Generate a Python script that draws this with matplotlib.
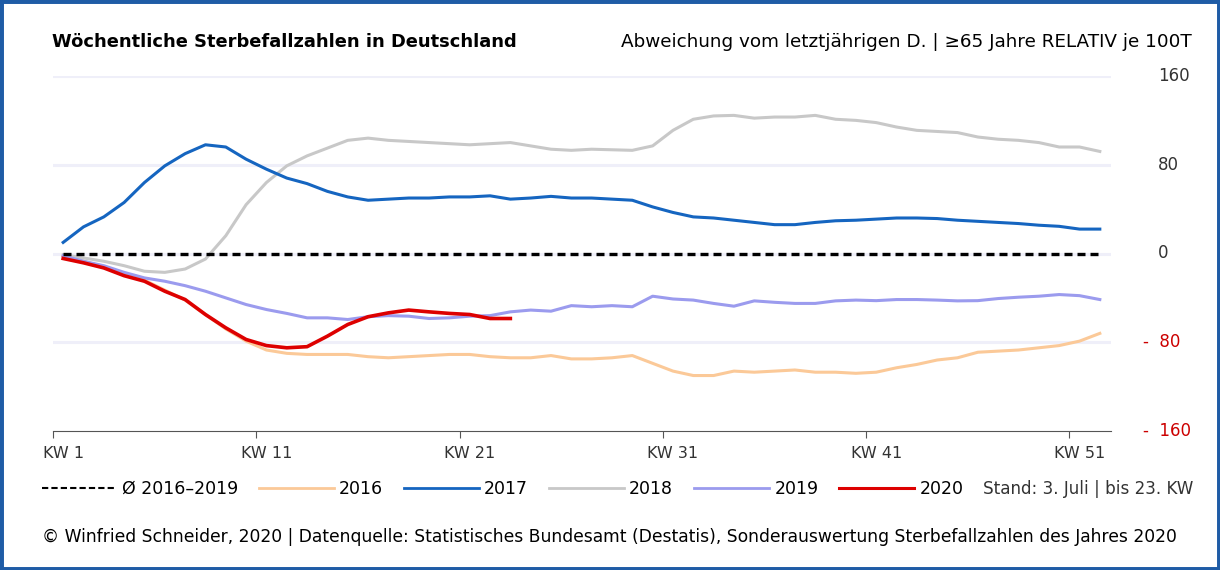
import matplotlib.pyplot as plt
from matplotlib.lines import Line2D
from matplotlib.patches import Rectangle

# calendar weeks 1..52
weeks = list(range(1, 53))

# deviation vs. previous-year average, 65+ years, per 100k
avg_line = [0] * 52
y2016 = [-2, -7, -12, -19, -24, -33, -42, -55, -68, -79,
         -87, -90, -91, -91, -91, -93, -94, -93, -92, -91,
         -91, -93, -94, -94, -92, -95, -95, -94, -92, -99,
         -106, -110, -110, -106, -107, -106, -105, -107, -107, -108,
         -107, -103, -100, -96, -94, -89, -88, -87, -85, -83, -79, -72]
y2017 = [10, 24, 33, 46, 64, 79, 90, 98, 96, 85,
         76, 68, 63, 56, 51, 48, 49, 50, 50, 51,
         51, 52, 49, 50, 51.5, 50, 50, 49, 48, 42,
         37, 33, 32, 30, 28, 26, 26, 28, 29.5, 30,
         31, 32, 32, 31.5, 30, 29, 28, 27, 25.5, 24.5, 22, 22]
y2018 = [-1, -4, -7, -11, -16, -17, -14, -5, 16, 44,
         64, 79, 88, 95, 102, 104, 102, 101, 100, 99,
         98, 99, 100, 97, 94, 93, 94, 93.5, 93, 97,
         111, 121, 124, 124.5, 122, 123, 123, 124.5, 121, 120,
         118, 114, 111, 110, 109, 105, 103, 102, 100, 96, 96, 92]
y2019 = [-2, -7, -11, -17, -22, -25, -29, -34, -40, -46,
         -50.5, -54, -58, -58, -59.5, -57, -56, -56.5, -58.6, -58,
         -56.5, -56, -52.6, -51, -52, -47, -48, -47, -48, -38.5,
         -41, -42, -45, -47.5, -42.7, -44, -45, -45, -42.7, -42,
         -42.5, -41.5, -41.5, -42, -42.7, -42.5, -40.6, -39.4, -38.5, -37, -38, -41.5]
y2020 = [-4.5, -8.4, -13, -20, -25, -34, -41.5, -55, -67, -77.5,
         -83, -85, -84, -74.5, -64, -57, -53.5, -51, -52.6, -54,
         -55, -58.6, -58.6]

label_weeks = [1, 11, 21, 31, 41, 51]
tick_labels = ["KW 1", "KW 11", "KW 21", "KW 31", "KW 41", "KW 51"]
y_levels = [160, 80, 0, -80, -160]
y_labels = ["160", "80", "0", "-  80", "-  160"]

c16, c17, c18, c19, c20 = "#fbc998", "#1565c0", "#c8c8c8", "#9b9bee", "#dd0000"

W, H = 1220, 570
fig = plt.figure(figsize=(12.2, 5.7), dpi=100)
ax = fig.add_axes([53 / W, 1 - 431 / H, (1111 - 53) / W, (431 - 76) / H])

# light grid
for v in [160, 80, 0, -80]:
    ax.axhline(v, color="#efeff9", lw=2.2, zorder=0)

ax.plot(weeks, y2016, color=c16, lw=2.2, zorder=2)
ax.plot(weeks, y2018, color=c18, lw=2.2, zorder=2)
ax.plot(weeks, y2019, color=c19, lw=2.2, zorder=2)
ax.plot(weeks, y2017, color=c17, lw=2.2, zorder=3)
ax.plot(weeks, avg_line, color="black", lw=2.4, dashes=(2.4, 1.5), zorder=3)
ax.plot(weeks[:len(y2020)], y2020, color=c20, lw=2.6, zorder=4)

ax.set_xlim(0.5, 52.55)
ax.set_ylim(-160, 160)
for s in ["top", "left", "right"]:
    ax.spines[s].set_visible(False)
ax.spines["bottom"].set_color("#555555")
ax.set_yticks([])
# tick marks sit on the week boundaries, labels on the week itself
ax.set_xticks([w - 0.5 for w in label_weeks])
ax.set_xticklabels([])
ax.set_xticks(label_weeks, minor=True)
ax.set_xticklabels(tick_labels, minor=True, fontsize=11.5, color="#333333")
ax.tick_params(axis="x", which="major", length=5, color="#555555")
ax.tick_params(axis="x", which="minor", length=0, pad=11)

# right-hand value labels
for v, lab in zip(y_levels, y_labels):
    col = "#cc0000" if v < 0 else "#333333"
    xo = 1158 if v >= 0 else 1143
    ax.text((xo - 53) / (1111 - 53), v, lab, transform=ax.get_yaxis_transform(),
            ha="left", va="center", fontsize=12, color=col)

fig.text(52 / W, 1 - 42 / H, "Wöchentliche Sterbefallzahlen in Deutschland",
         fontsize=12.9, fontweight="bold", ha="left", va="center")
fig.text(1192 / W, 1 - 42 / H,
         "Abweichung vom letztjährigen D. | ≥65 Jahre RELATIV je 100T",
         fontsize=13.2, ha="right", va="center")

handles = [
    Line2D([], [], color="black", lw=1.5, dashes=(3, 1.5)),
    Line2D([], [], color=c16, lw=2),
    Line2D([], [], color=c17, lw=2),
    Line2D([], [], color=c18, lw=2),
    Line2D([], [], color=c19, lw=2),
    Line2D([], [], color=c20, lw=2.2),
]
labels = ["Ø 2016–2019", "2016", "2017", "2018", "2019", "2020"]
fig.legend(handles, labels, loc="center left", bbox_to_anchor=(41.5 / W, 1 - 489 / H),
           ncol=6, frameon=False, fontsize=12.5, handlelength=4.32,
           handletextpad=0.3, columnspacing=1.2, borderpad=0, borderaxespad=0)
fig.text(1193 / W, 1 - 489 / H, "Stand: 3. Juli | bis 23. KW",
         fontsize=12.1, ha="right", va="center", color="#333333")

fig.text(42 / W, 1 - 537 / H,
         "© Winfried Schneider, 2020 | Datenquelle: Statistisches Bundesamt (Destatis), "
         "Sonderauswertung Sterbefallzahlen des Jahres 2020",
         fontsize=12.3, ha="left", va="center")

fig.patches.append(Rectangle((0, 0), 1, 1, transform=fig.transFigure, fill=False,
                             edgecolor="#1f5ca6", lw=5))

fig.savefig("out.png", dpi=100)
